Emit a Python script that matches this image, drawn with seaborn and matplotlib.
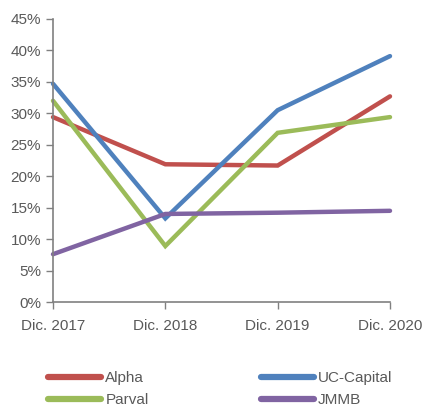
import matplotlib
matplotlib.use("Agg")
import matplotlib.pyplot as plt
import seaborn as sns
import pandas as pd
from matplotlib.ticker import PercentFormatter
from matplotlib.lines import Line2D

periods = ["Dic. 2017", "Dic. 2018", "Dic. 2019", "Dic. 2020"]
alpha = [29.4, 21.9, 21.7, 32.7]
uc_capital = [34.7, 13.3, 30.5, 39.1]
parval = [32.0, 8.9, 26.9, 29.4]
jmmb = [7.6, 14.0, 14.2, 14.5]
series_names = ["Alpha", "UC-Capital", "Parval", "JMMB"]
colors = ["#C0504D", "#4F81BD", "#9BBB59", "#8064A2"]
y_ticks = [0, 5, 10, 15, 20, 25, 30, 35, 40, 45]

rows = []
for name, vals in zip(series_names, [alpha, uc_capital, parval, jmmb]):
    for i, (p, v) in enumerate(zip(periods, vals)):
        rows.append({"idx": i, "period": p, "value": v, "series": name})
df = pd.DataFrame(rows)

sns.set_style("white")
plt.rcParams["font.family"] = ["Liberation Sans", "DejaVu Sans"]

fig = plt.figure(figsize=(4.22, 4.08), dpi=100)
ax = fig.add_axes([53/422, (408-302)/408, (390-53)/422, (302-19)/408])

sns.lineplot(data=df, x="idx", y="value", hue="series", hue_order=series_names,
             palette=dict(zip(series_names, colors)), linewidth=3.2, ax=ax,
             legend=False, solid_capstyle="round", solid_joinstyle="miter")

ax.set_xlim(0, 3)
ax.set_ylim(0, 45)
ax.set_xticks(range(len(periods)))
ax.set_xticklabels(periods)
ax.set_yticks(y_ticks)
ax.yaxis.set_major_formatter(PercentFormatter(decimals=0))
ax.set_xlabel("")
ax.set_ylabel("")
for s in ["top", "right"]:
    ax.spines[s].set_visible(False)
for s in ["left", "bottom"]:
    ax.spines[s].set_color("#808080")
    ax.spines[s].set_linewidth(1.2)
ax.tick_params(axis="both", colors="#808080", labelcolor="#595959",
               labelsize=11, length=5, width=1.0, direction="out",
               left=True, bottom=True)
ax.tick_params(axis="x", pad=7)
for line in ax.lines:
    line.set_clip_on(False)

handles = [Line2D([], [], color=c, linewidth=4.5, solid_capstyle="round") for c in colors]
order = [0, 2, 1, 3]
leg = fig.legend([handles[i] for i in order], [series_names[i] for i in order],
                 ncol=2, loc="upper left", bbox_to_anchor=(48/422, (408-371)/408),
                 frameon=False, handlelength=3.5, handletextpad=0.25,
                 columnspacing=7.35, labelspacing=0.55, borderpad=0, borderaxespad=0,
                 fontsize=11)
for t in leg.get_texts():
    t.set_color("#595959")

fig.savefig("out.png", dpi=100)
